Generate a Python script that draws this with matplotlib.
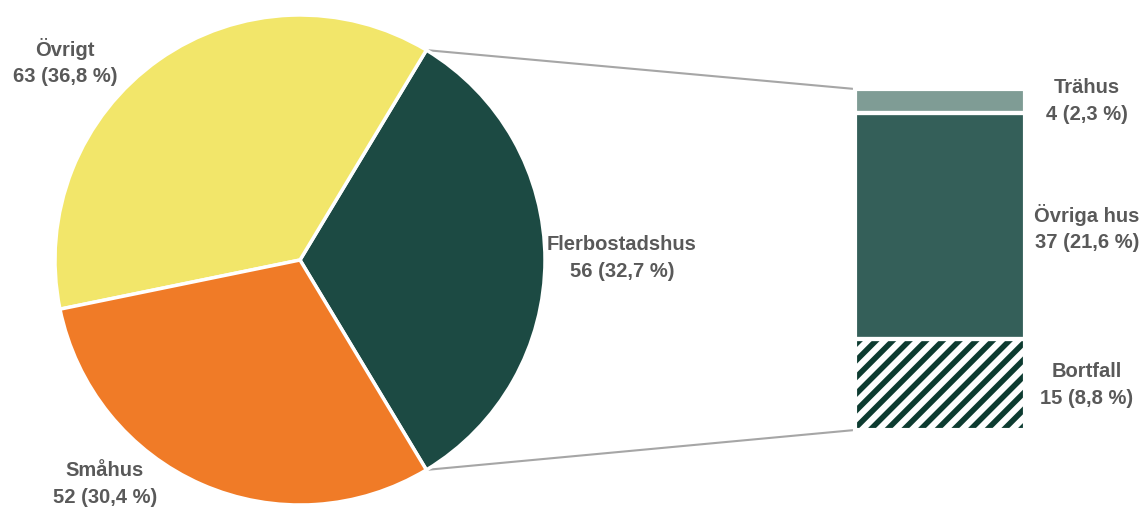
import matplotlib
matplotlib.use("Agg")
import matplotlib.pyplot as plt
import numpy as np

# pie data
pie_labels = ["Flerbostadshus", "Övrigt", "Småhus"]
pie_values = [56, 63, 52]
pie_pct = ["32,7", "36,8", "30,4"]
pie_colors = ["#1c4a43", "#f2e66a", "#f07b27"]

# bar-of-pie breakdown of Flerbostadshus, bottom to top
bar_labels = ["Bortfall", "Övriga hus", "Trähus"]
bar_values = [15, 37, 4]
bar_pct = ["8,8", "21,6", "2,3"]
bar_colors = ["white", "#345f59", "#7f9c95"]

txt_color = "#595959"
font = ["Liberation Sans Narrow", "Liberation Sans", "DejaVu Sans"]
plt.rcParams["hatch.linewidth"] = 4.0

W, H = 1147, 509
fig = plt.figure(figsize=(W / 100, H / 100), dpi=100)
ax = fig.add_axes([0, 0, 1, 1])

# pie, in pixel-like data coords
cx, cy, r = 300, 249, 245
start = -360 * pie_values[0] / sum(pie_values) / 2
wedges, _ = ax.pie(pie_values, colors=pie_colors, center=(cx, cy), radius=r,
                   startangle=start, counterclock=True,
                   wedgeprops=dict(edgecolor="white", linewidth=2.5))

# stacked bar
bx, bw = 940, 170
bottom0 = 79
scale = 341 / sum(bar_values)
bottoms = []
b = bottom0
for v in bar_values:
    bottoms.append(b)
    b += v * scale
heights = [v * scale for v in bar_values]

ax.bar(bx, heights[0], bw, bottom=bottoms[0], color="white",
       edgecolor="#0d3b30", linewidth=0, hatch="//")
ax.bar(bx, heights[1:], bw, bottom=bottoms[1:], color=bar_colors[1:], linewidth=0)
ax.bar(bx, heights, bw, bottom=bottoms, fill=False, edgecolor="white", linewidth=3)

# connector lines
top_ang = np.deg2rad(-start)
ax.plot([cx + r * np.cos(top_ang), bx - bw / 2],
        [cy + r * np.sin(top_ang), bottom0 + sum(heights)],
        color="#a6a6a6", lw=1.5, zorder=0)
ax.plot([cx + r * np.cos(top_ang), bx - bw / 2],
        [cy - r * np.sin(top_ang), bottom0],
        color="#a6a6a6", lw=1.5, zorder=0)

tkw = dict(color=txt_color, fontsize=14.5, fontweight="bold", family=font,
           ha="center", va="center", linespacing=1.5)

pie_pos = [(622, 251), (65, 447), (105, 25)]
for lab, v, p, (x, y) in zip(pie_labels, pie_values, pie_pct, pie_pos):
    ax.text(x, y, f"{lab}\n{v} ({p} %)", **tkw)

bar_pos = [124, 281, 408]
for lab, v, p, y in zip(bar_labels, bar_values, bar_pct, bar_pos):
    ax.text(1087, y, f"{lab}\n{v} ({p} %)", **tkw)

ax.set_xlim(0, W)
ax.set_ylim(0, H)
ax.set_aspect("equal")
ax.axis("off")

fig.savefig("out.png", dpi=100)
